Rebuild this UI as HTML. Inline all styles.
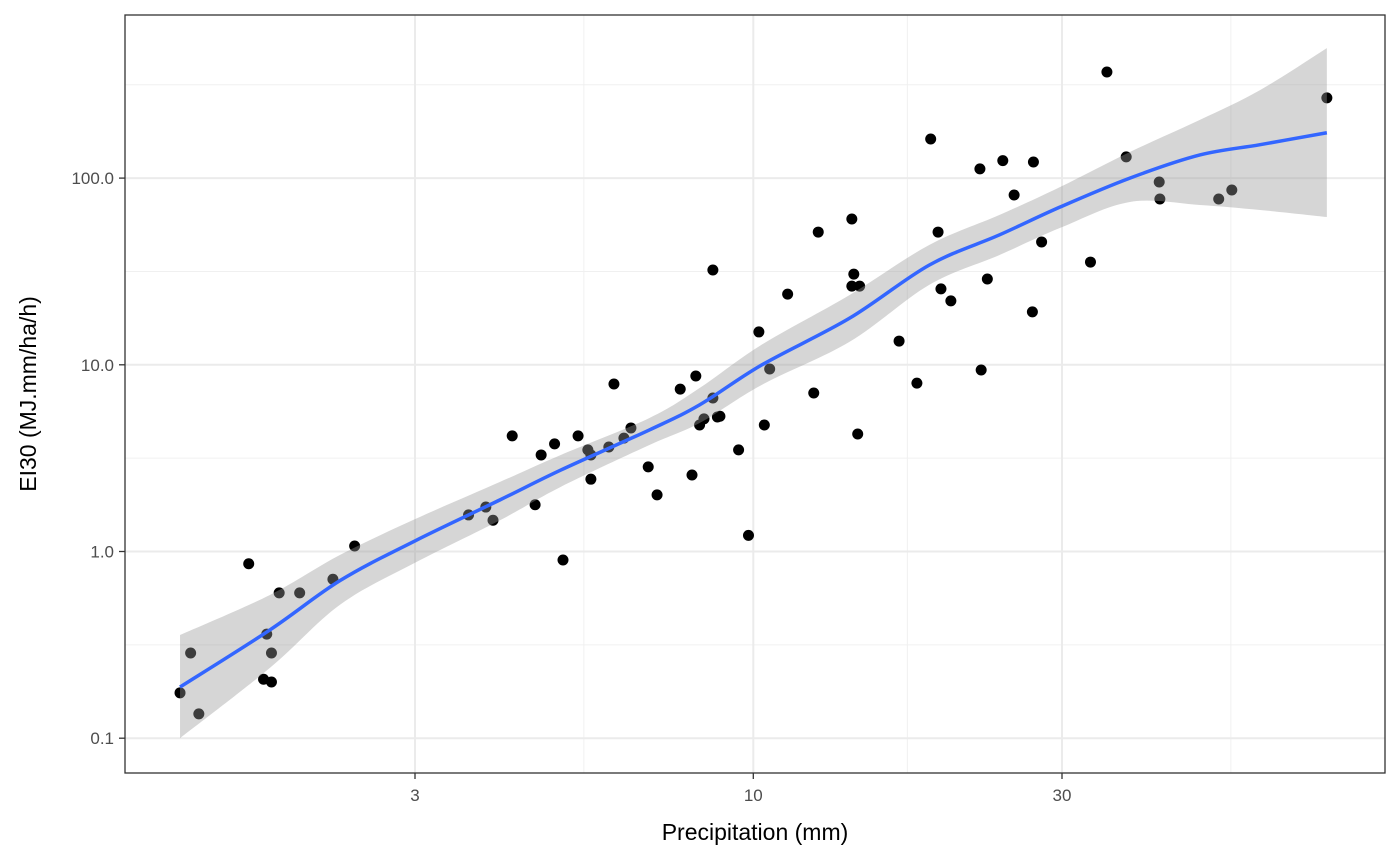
<!DOCTYPE html>
<html><head><meta charset="utf-8"><style>
body{margin:0;background:#fff;}
svg{display:block;font-family:"Liberation Sans",sans-serif;}
</style></head><body>
<svg id="chart" width="1400" height="865">
<rect width="1400" height="865" fill="#fff"/>
<g id="grid"></g>
<g id="points"></g>
<g id="fit"></g>
<rect x="125" y="15" width="1260" height="758" fill="none" stroke="#333" stroke-width="1.3"/>
<g id="axes"></g>
<text x="755" y="840" font-size="23" text-anchor="middle" fill="#000">Precipitation (mm)</text>
<text transform="translate(36,394) rotate(-90)" font-size="23" text-anchor="middle" fill="#000">EI30 (MJ.mm/ha/h)</text>
</svg>
<script>
const precip=[1.30,1.35,1.39,1.66,1.75,1.77,1.80,1.80,1.85,1.99,2.24,2.42,3.63,3.86,3.96,4.24,4.60,4.70,4.93,5.08,5.36,5.55,5.61,5.61,5.98,6.09,6.31,6.47,6.88,7.10,7.71,8.04,8.15,8.26,8.39,8.66,8.66,8.80,8.88,9.49,9.83,10.2,10.4,10.6,11.3,12.4,12.6,14.2,14.2,14.3,14.5,14.6,16.8,17.9,18.8,19.3,19.5,20.2,22.4,22.5,23.0,24.3,25.3,27.0,27.1,27.9,33.2,35.2,37.7,42.4,42.5,52.4,54.9,77.0];
const ei30=[0.175,0.286,0.135,0.86,0.207,0.361,0.286,0.200,0.60,0.60,0.71,1.07,1.57,1.73,1.47,4.16,1.78,3.29,3.77,0.90,4.16,3.50,3.29,2.44,3.63,7.89,4.05,4.59,2.84,2.01,7.41,2.57,8.71,4.76,5.13,32.2,6.64,5.25,5.3,3.50,1.22,15.0,4.76,9.5,23.9,7.06,51.4,60.4,26.4,30.6,4.26,26.4,13.4,7.98,162,51.4,25.5,22.0,112,9.38,28.8,124,81.2,19.2,122,45.5,35.5,370,130,95.3,77.3,77.3,86.3,269];
const fitX=[1.30,1.79,2.30,3,4.06,5.04,6.91,8.26,10.3,14.1,18.7,24.0,29.8,38.2,49.0,60.7,77];
const fitY=[0.188,0.380,0.70,1.14,1.89,2.73,4.48,6.10,9.97,17.8,34.2,49.6,70.0,100,133,151,175];
const fitHi=[0.357,0.585,0.96,1.49,2.36,3.29,5.19,7.51,12.8,23.7,43.8,63.4,89.6,138,205,296,497];
const fitLo=[0.1,0.238,0.52,0.87,1.47,2.22,3.72,4.88,7.8,13.3,26.8,38.7,54.1,74.5,71.8,67.5,61.9];
const xTicks=[3,10,30];
const xTickLabels=["3","10","30"];
const yTicks=[0.1,1,10,100];
const yTickLabels=["0.1","1.0","10.0","100.0"];

const NS="http://www.w3.org/2000/svg";
const X=v=>415+(Math.log10(v)-Math.log10(3))*647;
const Y=v=>551.5-Math.log10(v)*186.7;
function mk(tag,attrs,parent){const e=document.createElementNS(NS,tag);for(const k in attrs)e.setAttribute(k,attrs[k]);parent.appendChild(e);return e;}
function spline(p){let s='M'+p[0][0]+','+p[0][1];
 for(let i=0;i<p.length-1;i++){const p0=p[Math.max(i-1,0)],p1=p[i],p2=p[i+1],p3=p[Math.min(i+2,p.length-1)];
  const c1=[p1[0]+(p2[0]-p0[0])/6,p1[1]+(p2[1]-p0[1])/6],c2=[p2[0]-(p3[0]-p1[0])/6,p2[1]-(p3[1]-p1[1])/6];
  s+=' C'+c1[0]+','+c1[1]+' '+c2[0]+','+c2[1]+' '+p2[0]+','+p2[1];}
 return s;}
const grid=document.getElementById('grid'),axes=document.getElementById('axes');
const xl=Math.log10(3);
[xl-0.738,xl+0.261,xl+0.761,xl+1.261].forEach(l=>{const px=X(Math.pow(10,l));
 const e=mk('line',{x1:px,x2:px,y1:15,y2:773,stroke:'#f0f0f0','stroke-width':1},grid);
 });
[-0.5,0.5,1.5,2.5].forEach(l=>{const py=Y(Math.pow(10,l));if(py<15||py>773)return;
 const e=mk('line',{x1:125,x2:1385,y1:py,y2:py,stroke:'#f0f0f0','stroke-width':1},grid);
 });
xTicks.forEach((t,i)=>{const px=X(t);
 const g=mk('line',{x1:px,x2:px,y1:15,y2:773,stroke:'#ebebeb','stroke-width':2},grid);
 
 const tk=mk('line',{x1:px,x2:px,y1:773,y2:779,stroke:'#333','stroke-width':1.3},axes);
 
 const tx=mk('text',{x:px,y:801,'font-size':17,'text-anchor':'middle',fill:'#4d4d4d'},axes);tx.textContent=xTickLabels[i];
 });
yTicks.forEach((t,i)=>{const py=Y(t);
 const g=mk('line',{x1:125,x2:1385,y1:py,y2:py,stroke:'#ebebeb','stroke-width':2},grid);
 
 const tk=mk('line',{x1:119,x2:125,y1:py,y2:py,stroke:'#333','stroke-width':1.3},axes);
 
 const tx=mk('text',{x:114,y:py+6,'font-size':17,'text-anchor':'end',fill:'#4d4d4d'},axes);tx.textContent=yTickLabels[i];
 });
const pts=document.getElementById('points');
precip.forEach((p,i)=>{const c=mk('circle',{cx:X(p),cy:Y(ei30[i]),r:5.5,fill:'#000'},pts);
 });
const fit=document.getElementById('fit');
const hi=fitX.map((x,i)=>[X(x),Y(fitHi[i])]);
const lo=fitX.map((x,i)=>[X(x),Y(fitLo[i])]).reverse();
const d=spline(hi)+' L'+spline(lo).slice(1)+' Z';
const band=mk('path',{d:d,fill:'rgba(153,153,153,0.4)'},fit);

const line=mk('path',{d:spline(fitX.map((x,i)=>[X(x),Y(fitY[i])])),fill:'none',stroke:'#3366FF','stroke-width':3.5,'stroke-linejoin':'round'},fit);

</script>
</body></html>
